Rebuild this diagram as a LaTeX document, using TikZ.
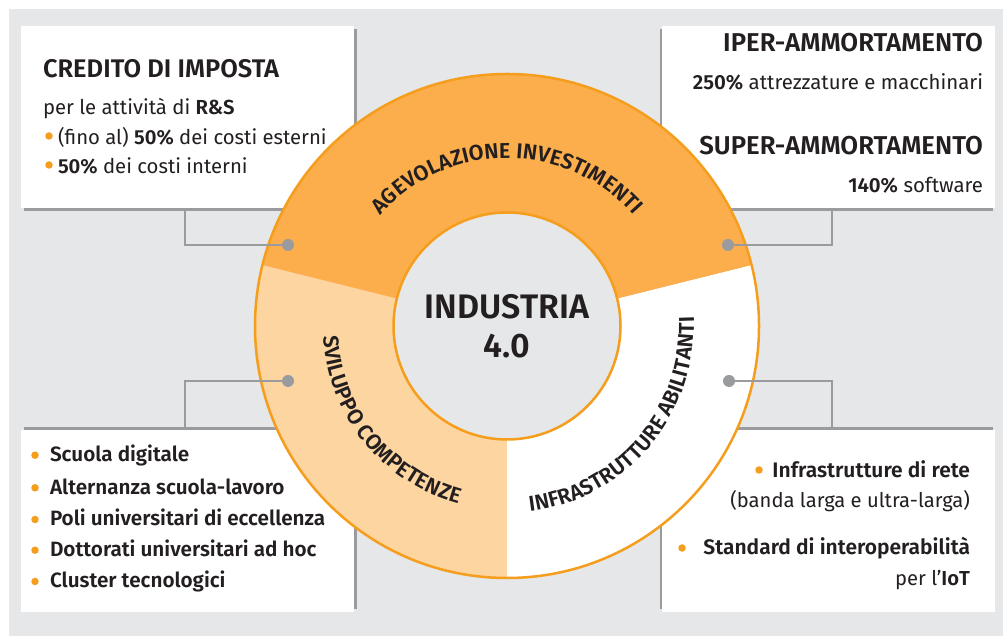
\documentclass[tikz,border=0pt]{standalone}
\usepackage{fontspec}
\setmainfont{Fira Sans}[BoldFont={Fira Sans SemiBold}]
\usetikzlibrary{decorations.text}

\definecolor{bggray}{HTML}{E6E7E8}
\definecolor{ringorange}{HTML}{FBAE4B}
\definecolor{palorange}{HTML}{FDD5A0}
\definecolor{edgeorange}{HTML}{F59D1C}
\definecolor{linegray}{HTML}{9A9B9F}
\definecolor{ink}{HTML}{231F20}

\newcommand{\fsz}[1]{\fontsize{#1}{#1}\selectfont}
\newcommand{\arcfont}{\fsz{21.5}\bfseries\color{ink}}

\tikzset{
  panel/.style={rectangle, fill=white, inner sep=0pt, outer sep=0pt,
                minimum width=333pt, minimum height=182pt},
  conn/.style={draw=linegray, line width=2pt},
  pin/.style={circle, fill=linegray, inner sep=0pt, outer sep=0pt, minimum size=12pt},
  dotb/.style={circle, fill=edgeorange, inner sep=0pt, outer sep=0pt, minimum size=7.5pt},
  txt/.style={inner sep=0pt, outer sep=0pt, text=ink},
  edge ring/.style={draw=edgeorange, line width=2.5pt},
}

\begin{document}
\begin{tikzpicture}[x=1pt, y=1pt]
  % canvas
  \useasboundingbox (0,0) rectangle (1003,636);
  \fill[white] (0,0) rectangle (1003,636);
  \fill[bggray] (9,0) rectangle (1003,627);

  % panel shadows (offset toward the centre)
  \fill[linegray] (23.5,425) rectangle (356.5,607);
  \fill[linegray] (659.5,425) rectangle (992.5,607);
  \fill[linegray] (23.5,27) rectangle (356.5,209);
  \fill[linegray] (659.5,27) rectangle (992.5,209);

  % panels
  \node[panel] (tl) at (187.5,519) {};
  \node[panel] (tr) at (828.5,519) {};
  \node[panel] (bl) at (187.5,115) {};
  \node[panel] (br) at (828.5,115) {};

  % ring
  \coordinate (C) at (507,310);
  \fill[palorange] (C) -- ++(166:252) arc[start angle=166, end angle=270, radius=252] -- cycle;
  \fill[white] (C) -- ++(270:252) arc[start angle=270, end angle=374, radius=252] -- cycle;
  \fill[ringorange] (C) -- ++(14:252) arc[start angle=14, end angle=166, radius=252] -- cycle;
  \draw[edge ring] (C) circle[radius=252];
  \node[circle, fill=bggray, edge ring, minimum size=227pt, inner sep=0pt] (hub) at (C) {};

  % labels along the ring
  \path[decorate, decoration={text along path, text align=center,
        text={|\arcfont|AGEVOLAZIONE INVESTIMENTI}}]
    ([shift={(160:168)}]C) arc[start angle=160, end angle=20, radius=168];
  \path[decorate, decoration={text along path, text align=center,
        text={|\arcfont|SVILUPPO COMPETENZE}}]
    ([shift={(160:184)}]C) arc[start angle=160, end angle=278, radius=184];
  \path[decorate, decoration={text along path, text align=center,
        text={|\arcfont|INFRASTRUTTURE ABILITANTI}}]
    ([shift={(-95:187)}]C) arc[start angle=-95, end angle=15, radius=187];

  % centre title
  \node[txt, anchor=base] (hubA) at (507,317) {\fsz{34}\bfseries INDUSTRIA};
  \node[txt, anchor=base] (hubB) at (507,278) {\fsz{34}\bfseries 4.0};

  % pins and connectors
  \node[pin] (ptl) at (288,391) {};
  \node[pin] (ptr) at (728,391) {};
  \node[pin] (pbl) at (288,255) {};
  \node[pin] (pbr) at (729,255) {};
  \coordinate (ftl) at (185,425);
  \coordinate (ftr) at (832,425);
  \coordinate (fbl) at (185,209);
  \coordinate (fbr) at (832,209);
  \draw[conn] (ptl) -| (ftl);
  \draw[conn] (ptr) -| (ftr);
  \draw[conn] (pbl) -| (fbl);
  \draw[conn] (pbr) -| (fbr);

  % top-left panel text
  \node[txt, anchor=base west] (t1) at (43,558.3) {\fsz{25.5}\bfseries CREDITO DI IMPOSTA};
  \node[txt, anchor=base west] (t2) at (43,521.7) {\fsz{20.3}per le attività di \textbf{R\&S}};
  \node[dotb] (t3d) at (49,500) {};
  \node[txt, anchor=base west] (t3) at (58,491) {\fsz{20.3}(fino al) \textbf{50\%} dei costi esterni};
  \node[dotb] (t4d) at (49,471) {};
  \node[txt, anchor=base west] (t4) at (58,462.7) {\fsz{20.3}\textbf{50\%} dei costi interni};

  % top-right panel text
  \node[txt, anchor=base east] (r1) at (983,584.3) {\fsz{25.8}\bfseries IPER-AMMORTAMENTO};
  \node[txt, anchor=base east] (r2) at (983,546.7) {\fsz{20.4}\textbf{250\%} attrezzature e macchinari};
  \node[txt, anchor=base east] (r3) at (983,481) {\fsz{25.8}\bfseries SUPER-AMMORTAMENTO};
  \node[txt, anchor=base east] (r4) at (983,443.3) {\fsz{20.4}\textbf{140\%} software};

  % bottom-left panel text
  \foreach \y/\s [count=\i] in {174.3/Scuola digitale, 141.7/Alternanza scuola-lavoro,
      110/Poli universitari di eccellenza, 79.3/Dottorati universitari ad hoc,
      48/Cluster tecnologici} {
    \node[dotb] (l\i d) at (35,\y+6.5) {};
    \node[txt, anchor=base west] (l\i) at (50,\y) {\fsz{20.7}\bfseries \s};
  }

  % bottom-right panel text
  \node[dotb] (q1d) at (759,166) {};
  \node[txt, anchor=base east] (q1) at (970,158) {\fsz{21}\bfseries Infrastrutture di rete};
  \node[txt, anchor=base east] (q2) at (970,128) {\fsz{20.2}(banda larga e ultra-larga)};
  \node[dotb] (q3d) at (682,88) {};
  \node[txt, anchor=base east] (q3) at (970,81) {\fsz{21}\bfseries Standard di interoperabilità};
  \node[txt, anchor=base east] (q4) at (970,50) {\fsz{20.2}per l’\textbf{IoT}};
\end{tikzpicture}
\end{document}
